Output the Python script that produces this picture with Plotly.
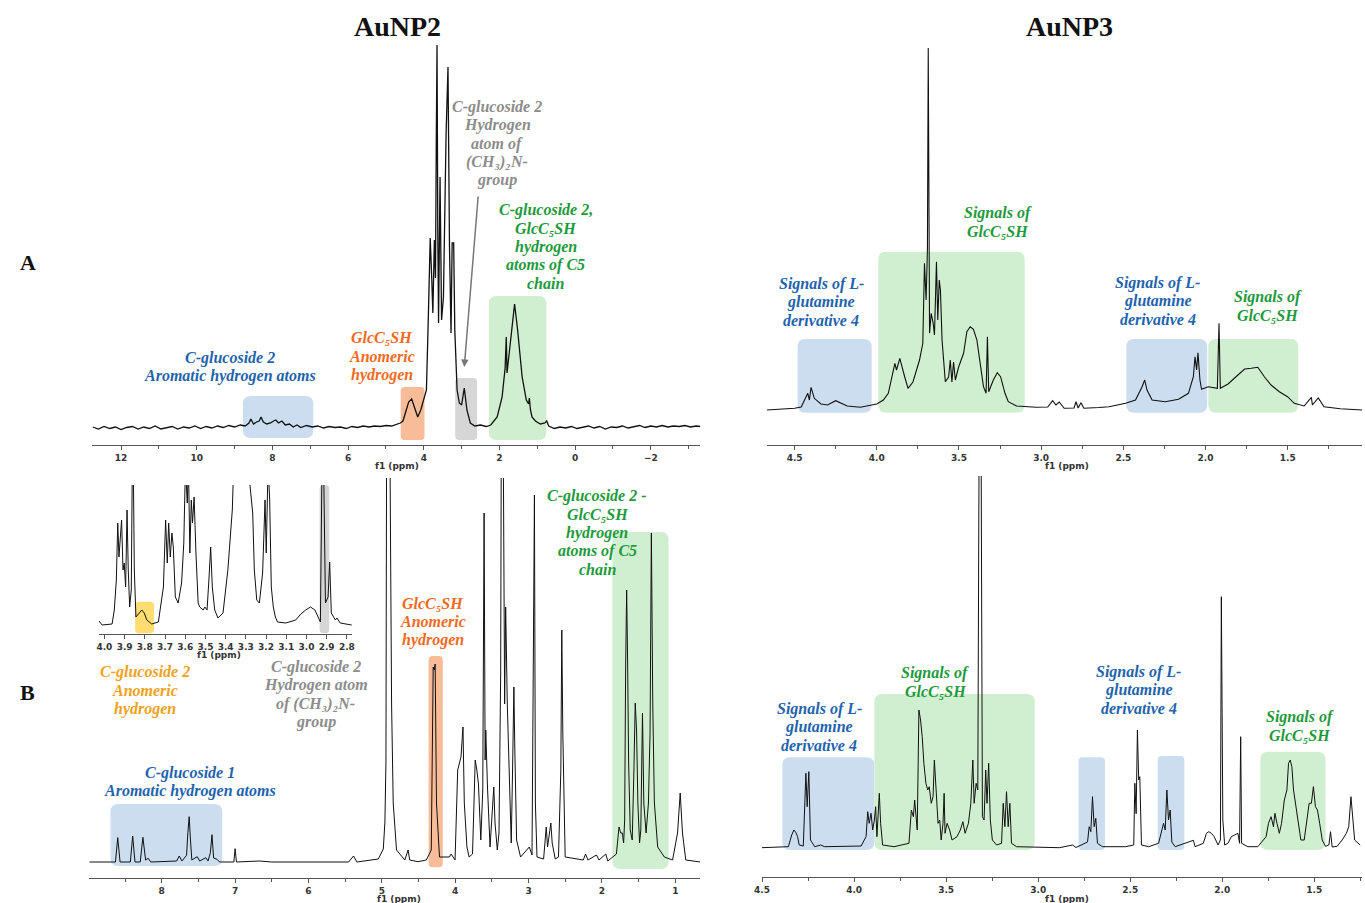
import plotly.graph_objects as go

W, H = 1365, 903

# ---------------- DATA (ppm, intensity) ----------------
auNP2_A = [
    (12.75, 1), (12.6, -1), (12.45, 1.5), (12.3, -0.5), (12.15, 1), (12.0, -1.5), (11.85, 0.5),
    (11.7, 1.5), (11.55, -1), (11.4, 1), (11.25, -0.5), (11.1, 2), (10.95, -1), (10.8, 0.5),
    (10.65, 1.5), (10.5, -1), (10.35, 1), (10.2, 0), (10.05, 2), (9.9, -0.5), (9.75, 1.5),
    (9.6, 0), (9.45, 2), (9.3, 0.5), (9.15, 2.5), (9.0, 1), (8.85, 3), (8.72, 2), (8.62, 5),
    (8.57, 9), (8.5, 4), (8.42, 6), (8.35, 7), (8.3, 11), (8.24, 6), (8.15, 4), (8.05, 5),
    (7.97, 7), (7.91, 8), (7.84, 5), (7.75, 7), (7.66, 3), (7.55, 4), (7.45, 1), (7.35, 3),
    (7.25, 0.5), (7.1, 2.5), (6.95, 1), (6.8, 2), (6.65, 0), (6.5, 1.5), (6.35, 0.5), (6.2, 1),
    (6.05, -0.5), (5.9, 1.5), (5.75, 0.5), (5.6, 2), (5.45, 1), (5.3, 2), (5.15, 1.5), (5.0, 2.5),
    (4.85, 2), (4.72, 4), (4.62, 5), (4.55, 7), (4.48, 16), (4.40, 26), (4.32, 29), (4.25, 20),
    (4.16, 11), (4.08, 18), (3.98, 30), (3.93, 38), (3.88, 110), (3.83, 190), (3.79, 150),
    (3.76, 115), (3.72, 188), (3.69, 150), (3.67, 285), (3.65, 383), (3.63, 200), (3.61, 105),
    (3.57, 251), (3.53, 108), (3.48, 131), (3.41, 295), (3.36, 361), (3.32, 181), (3.28, 95),
    (3.25, 185), (3.21, 185), (3.18, 98), (3.12, 38), (3.06, 25), (3.00, 23), (2.93, 40),
    (2.86, 18), (2.77, 5), (2.65, 2), (2.5, 3), (2.35, 1.5), (2.23, 3), (2.06, 11), (1.93, 31),
    (1.85, 60), (1.82, 91), (1.80, 55), (1.71, 88), (1.60, 124), (1.52, 98), (1.40, 51),
    (1.29, 28), (1.23, 24), (1.21, 30), (1.18, 18), (1.14, 11), (1.05, 7), (0.92, 4), (0.80, 5),
    (0.75, 7), (0.70, 2), (0.55, -0.5), (0.4, 1), (0.25, 0), (0.1, 1.5), (-0.05, -0.5), (-0.2, 1),
    (-0.35, 2), (-0.5, 0), (-0.65, 1.5), (-0.8, -1), (-0.95, 1), (-1.1, 0.5), (-1.25, 2),
    (-1.4, 0), (-1.55, 1.5), (-1.7, 2.5), (-1.85, 0.5), (-2.0, 2), (-2.15, 1), (-2.3, 2.5),
    (-2.45, 1), (-2.6, 2), (-2.75, 1.5), (-2.9, 2.5), (-3.05, 1), (-3.2, 2), (-3.31, 1.5),
]

auNP3_A = [
    (4.669, 0), (4.60, 0.5), (4.50, 1.7), (4.46, 3), (4.42, 16.7), (4.41, 10), (4.40, 22.7),
    (4.38, 11.7), (4.34, 6), (4.30, 5), (4.25, 9.3), (4.18, 4), (4.10, 2.7), (4.00, 6),
    (3.96, 10), (3.93, 16.7), (3.89, 46.7), (3.88, 40), (3.86, 51.7), (3.83, 33), (3.81, 21.7),
    (3.78, 28), (3.74, 50), (3.72, 66.7), (3.71, 146.7), (3.70, 110), (3.692, 160), (3.687, 362),
    (3.679, 76.7), (3.669, 96.7), (3.657, 86.7), (3.649, 75), (3.637, 148.3), (3.629, 90),
    (3.62, 130), (3.613, 120), (3.603, 70), (3.583, 28.3), (3.563, 33), (3.553, 50), (3.543, 28),
    (3.533, 48), (3.522, 30), (3.502, 43), (3.472, 56.7), (3.452, 78.3), (3.432, 83.3),
    (3.412, 80.7), (3.391, 70), (3.371, 46.7), (3.351, 23.3), (3.335, 16.7), (3.327, 73.3),
    (3.319, 18.3), (3.291, 30), (3.267, 37.3), (3.247, 33.3), (3.22, 16.7), (3.20, 8.3),
    (3.15, 4), (3.03, 2.7), (2.96, 3), (2.93, 9.3), (2.91, 5), (2.89, 8), (2.86, 1.7), (2.80, 2),
    (2.788, 8.3), (2.775, 2), (2.758, 7.3), (2.74, 1.7), (2.65, 2.5), (2.587, 3.3), (2.486, 6.7),
    (2.426, 10), (2.386, 23.3), (2.37, 30), (2.356, 20), (2.325, 10), (2.245, 8.3), (2.164, 10.7),
    (2.104, 16.7), (2.074, 33.3), (2.064, 53.3), (2.054, 40), (2.046, 57.3), (2.034, 30),
    (2.024, 20.7), (1.984, 23.3), (1.928, 21.7), (1.918, 86.7), (1.91, 21.7), (1.863, 26),
    (1.803, 35), (1.762, 41), (1.722, 41.7), (1.682, 42.7), (1.641, 33), (1.601, 25),
    (1.551, 18.3), (1.501, 13.3), (1.46, 6.7), (1.40, 4), (1.356, 12.7), (1.35, 5), (1.314, 12),
    (1.279, 3.3), (1.18, 1.3), (1.048, 0),
]

auNP2_B = [
    (8.987, 0), (8.879, 0), (8.631, 0), (8.60, 24.3), (8.568, 0), (8.428, 0), (8.396, 26),
    (8.365, 0), (8.293, 0), (8.257, 24.7), (8.22, 2), (8.185, 3.7), (8.149, 0), (7.797, 1),
    (7.761, 6), (7.725, 1), (7.662, 6.7), (7.644, 29.3), (7.626, 45.3), (7.612, 26), (7.59, 2),
    (7.517, 5.3), (7.482, 1), (7.40, 4.3), (7.369, 1), (7.337, 9.3), (7.315, 27.3), (7.293, 4),
    (7.247, 2.7), (7.212, 0), (7.017, 0), (7.0, 13.3), (6.982, 0), (6.671, 1), (6.5, 0),
    (5.454, 0), (5.386, 6), (5.34, 0), (5.048, 3), (4.98, 13), (4.958, 40), (4.944, 100),
    (4.935, 420), (4.89, 420), (4.867, 158), (4.845, 59), (4.80, 12), (4.687, 2), (4.642, 12),
    (4.62, 2), (4.508, 0.3), (4.394, 2), (4.326, 12), (4.30, 195), (4.286, 192), (4.273, 198),
    (4.255, 59), (4.214, 5), (4.079, 5), (4.056, 8), (4.002, 2), (3.966, 92), (3.944, 99),
    (3.921, 105), (3.894, 135), (3.876, 59), (3.84, 15), (3.81, 5), (3.764, 8), (3.727, 102),
    (3.705, 92), (3.683, 78), (3.651, 22), (3.624, 72), (3.606, 349), (3.592, 102), (3.583, 132),
    (3.56, 75), (3.525, 15), (3.493, 59), (3.474, 75), (3.457, 39), (3.426, 12), (3.403, 29),
    (3.38, 189), (3.372, 420), (3.345, 420), (3.326, 158), (3.312, 255), (3.29, 158), (3.268, 99),
    (3.236, 19), (3.218, 92), (3.20, 175), (3.187, 112), (3.163, 22), (3.109, 5), (3.02, 12),
    (2.99, 15), (2.953, 7), (2.92, 367), (2.907, 59), (2.885, 5), (2.795, 3), (2.759, 35),
    (2.741, 15), (2.718, 29), (2.696, 39), (2.678, 19), (2.636, 3), (2.592, 5), (2.56, 92),
    (2.547, 232), (2.533, 129), (2.501, 5), (2.254, 2), (2.223, 8), (2.191, 2), (2.074, 7),
    (2.04, 2), (1.947, 8), (1.92, 1), (1.803, 8), (1.767, 35), (1.744, 29), (1.722, 29),
    (1.704, 19), (1.69, 42), (1.677, 192), (1.663, 272), (1.65, 202), (1.636, 99), (1.614, 32),
    (1.587, 22), (1.564, 92), (1.546, 159), (1.528, 132), (1.51, 59), (1.487, 19), (1.47, 32),
    (1.447, 149), (1.429, 59), (1.398, 29), (1.366, 59), (1.344, 129), (1.326, 329), (1.307, 158),
    (1.285, 59), (1.24, 15), (1.149, 5), (1.037, 2), (0.969, 29), (0.933, 69), (0.902, 29),
    (0.857, 2), (0.658, 0),
]

auNP2_B_inset = [
    (4.027, 4), (4.011, 0), (3.962, 1), (3.951, 15), (3.941, 45), (3.934, 102), (3.928, 68),
    (3.921, 92), (3.915, 105), (3.908, 55), (3.902, 62), (3.895, 38), (3.888, 115), (3.882, 55),
    (3.875, 18), (3.867, 35), (3.862, 160), (3.857, 160), (3.852, 55), (3.844, 8), (3.826, 12),
    (3.815, 15), (3.803, 12), (3.79, 5), (3.766, 1), (3.733, 3), (3.708, 38), (3.697, 105),
    (3.689, 62), (3.682, 102), (3.674, 68), (3.666, 92), (3.659, 78), (3.649, 28), (3.635, 22),
    (3.618, 42), (3.607, 82), (3.599, 160), (3.59, 122), (3.584, 160), (3.577, 72), (3.57, 125),
    (3.564, 102), (3.556, 128), (3.547, 72), (3.536, 22), (3.528, 18), (3.511, 15), (3.503, 18),
    (3.492, 15), (3.482, 48), (3.474, 78), (3.466, 38), (3.454, 15), (3.438, 7), (3.413, 12),
    (3.389, 55), (3.377, 88), (3.367, 115), (3.36, 160), (3.352, 200), (3.33, 220), (3.29, 200),
    (3.282, 145), (3.266, 112), (3.258, 55), (3.246, 25), (3.233, 22), (3.217, 52), (3.205, 125),
    (3.199, 72), (3.19, 160), (3.182, 125), (3.174, 38), (3.164, 18), (3.154, 8), (3.143, 3),
    (3.102, 2), (3.053, 5), (3.028, 11), (3.004, 15), (2.98, 18), (2.958, 15), (2.942, 7),
    (2.931, 3), (2.923, 160), (2.915, 160), (2.906, 22), (2.893, 28), (2.885, 63), (2.877, 12),
    (2.857, 5), (2.849, 7), (2.833, 2), (2.776, 0),
]

auNP3_B = [
    (4.501, 0.3), (4.357, 1.3), (4.339, 13), (4.327, 18), (4.316, 15.3), (4.307, 11.3),
    (4.298, 3), (4.276, 2), (4.262, 74.7), (4.255, 41.3), (4.246, 76.3), (4.237, 8), (4.214, 1.3),
    (4.182, 3), (4.16, 1.3), (3.962, 2), (3.935, 11.3), (3.926, 36.3), (3.918, 24.7),
    (3.908, 34.7), (3.899, 18), (3.89, 28), (3.883, 41.3), (3.876, 11.3), (3.863, 54.7),
    (3.856, 24.7), (3.845, 3), (3.783, 1.3), (3.702, 4.7), (3.689, 38), (3.678, 31.3),
    (3.671, 48), (3.657, 18), (3.648, 138), (3.639, 128), (3.63, 111.3), (3.621, 84.7),
    (3.61, 64.7), (3.60, 58), (3.592, 61.3), (3.581, 44.7), (3.571, 51.3), (3.564, 88),
    (3.554, 58), (3.544, 24.7), (3.535, 28), (3.527, 8), (3.517, 24.7), (3.511, 54.7),
    (3.506, 14.7), (3.495, 24.7), (3.481, 18), (3.468, 8), (3.441, 11.3), (3.423, 18),
    (3.409, 26.3), (3.397, 14.7), (3.379, 24.7), (3.366, 44.7), (3.355, 88), (3.348, 44.7),
    (3.337, 64.7), (3.328, 58), (3.321, 400), (3.31, 400), (3.303, 31.3), (3.294, 28),
    (3.285, 78), (3.278, 44.7), (3.269, 84.7), (3.26, 28), (3.249, 8), (3.226, 3), (3.199, 4.7),
    (3.19, 44.7), (3.181, 21.3), (3.172, 56.3), (3.163, 21.3), (3.154, 44.7), (3.145, 4.7),
    (3.118, 1.3), (2.885, 0.3), (2.813, 3), (2.795, 0.5), (2.732, 6), (2.723, 21.3),
    (2.714, 16.3), (2.705, 51.3), (2.696, 21.3), (2.687, 29.7), (2.678, 4.7), (2.651, 1.3),
    (2.525, 1.3), (2.481, 3), (2.475, 64.7), (2.468, 34.3), (2.461, 118), (2.454, 68),
    (2.448, 71.3), (2.439, 3), (2.40, 1.3), (2.346, 4.7), (2.319, 24.7), (2.31, 18), (2.301, 58),
    (2.292, 28), (2.283, 38), (2.274, 6), (2.256, 1.3), (2.157, 7.7), (2.148, 1.3), (2.103, 4.7),
    (2.086, 14.7), (2.073, 16.3), (2.059, 14.7), (2.044, 11.3), (2.023, 3), (2.01, 8),
    (2.005, 251.3), (1.997, 28), (1.987, 3), (1.969, 4.7), (1.951, 11.3), (1.933, 13),
    (1.915, 14.7), (1.906, 4.7), (1.90, 111.3), (1.895, 4.7), (1.861, 1.3), (1.807, 1.3),
    (1.762, 11.3), (1.749, 24.7), (1.735, 31.3), (1.722, 21.3), (1.714, 34.7), (1.703, 24.7),
    (1.69, 14.7), (1.678, 24.7), (1.663, 48), (1.649, 58), (1.64, 84.7), (1.631, 88),
    (1.622, 81.3), (1.613, 58), (1.60, 41.3), (1.587, 21.3), (1.573, 8), (1.555, 8),
    (1.541, 24.7), (1.528, 44.7), (1.516, 44.7), (1.505, 61.3), (1.494, 41.3), (1.483, 38),
    (1.471, 24.7), (1.457, 8), (1.439, 1.7), (1.421, 3), (1.412, 16.3), (1.403, 1), (1.376, 1.7),
    (1.349, 8), (1.326, 14.7), (1.313, 21.3), (1.301, 51.3), (1.292, 28), (1.281, 8), (1.251, 3),
]

panel_titles = ["AuNP2", "AuNP3"]
row_labels = ["A", "B"]
axis_label = "f1 (ppm)"

# highlighted regions: (axis, ppm_from, ppm_to, low, high, fill)
BLUE_F, GREEN_F, ORANGE_F, GRAY_F, YELLOW_F = "#CCDDF0", "#D0EED0", "#F9BC98", "#D6D6D6", "#FFDD70"
regions = [
    ("1", 8.78, 6.92, -10, 32, BLUE_F), ("1", 4.61, 3.98, -12, 41, ORANGE_F),
    ("1", 3.17, 2.59, -12, 50, GRAY_F), ("1", 2.28, 0.76, -12, 132, GREEN_F),
    ("2", 4.482, 4.031, -2.7, 71, BLUE_F), ("2", 3.991, 3.10, -2.7, 158.3, GREEN_F),
    ("2", 2.482, 1.99, -2.7, 71, BLUE_F), ("2", 1.983, 1.436, -2.7, 71, GREEN_F),
    ("3", 8.699, 7.175, -4, 58, BLUE_F), ("3", 4.363, 4.169, -5.3, 206, ORANGE_F),
    ("3", 1.857, 1.091, -7, 330, GREEN_F),
    ("4", 4.39, 3.89, -2, 90.7, BLUE_F), ("4", 3.89, 3.019, -2, 154, GREEN_F),
    ("4", 2.781, 2.637, -2, 90.7, BLUE_F), ("4", 2.351, 2.206, -2, 92, BLUE_F),
    ("4", 1.793, 1.439, -2, 96.3, GREEN_F),
    ("5", 3.848, 3.754, -8.3, 23.3, YELLOW_F), ("5", 2.935, 2.887, -8.3, 140, GRAY_F),
]

BLUE, GREEN, ORANGE, GRAY, AMBER = "#1F63AD", "#1E9A3C", "#F26A21", "#8C8C8C", "#F0A21A"
GLC = "GlcC\u2085SH"
NME2 = "(CH\u2083)\u2082N-"
SIG_GLN = ["Signals of L-", "glutamine", "derivative 4"]
SIG_GLC = ["Signals of", GLC]
# text labels: (lines, centre x px, first line y px, colour)
labels = [
    (["C-glucoside 2", "Aromatic hydrogen atoms"], 224, 358, BLUE),
    ([GLC, "Anomeric", "hydrogen"], 377, 338, ORANGE),
    (["C-glucoside 2", "Hydrogen", "atom of", NME2, "group"], 493, 107, GRAY),
    (["C-glucoside 2,", GLC, "hydrogen", "atoms of C5", "chain"], 542, 210, GREEN),
    (SIG_GLN, 820, 284, BLUE), (SIG_GLC, 998, 213, GREEN),
    (SIG_GLN, 1159, 283, BLUE), (SIG_GLC, 1270, 297, GREEN),
    (["C-glucoside 1", "Aromatic hydrogen atoms"], 183, 773, BLUE),
    ([GLC, "Anomeric", "hydrogen"], 428, 603, ORANGE),
    (["C-glucoside 2 -", GLC, "hydrogen", "atoms of C5", "chain"], 594, 496, GREEN),
    (["C-glucoside 2", "Anomeric", "hydrogen"], 138, 672, AMBER),
    (["C-glucoside 2", "Hydrogen atom", "of " + NME2, "group"], 310, 667, GRAY),
    (SIG_GLN, 818, 709, BLUE), (SIG_GLC, 935, 673, GREEN),
    (SIG_GLN, 1140, 672, BLUE), (SIG_GLC, 1302, 717, GREEN),
]

# ---------------- layout geometry (pixels) ----------------
def PX(x):
    return x / W


def PY(y):
    return 1 - y / H


# axis id: (x px left, x px right, y px top, y px bottom, ppm range, intensity range, dtick, minor, fmt, px per ppm)
axes_geo = {
    "1": (85, 698, 40, 445, [12.76, -3.31], [-17, 388], 2, 1, None, 38.15),
    "2": (765, 1365, 45, 445, [4.669, 1.048], [-35, 365], 0.5, 0.25, ".1f", 165.7),
    "3": (82, 698, 478, 878, [8.987, 0.658], [-16, 384], 1, 0.5, None, 73.96),
    "4": (760, 1365, 476, 877, [4.501, 1.241], [-29, 372], 0.5, 0.25, ".1f", 185.6),
    "5": (91.7, 346.7, 485, 634, [4.027, 2.775], [-9, 140], 0.1, None, ".1f", 203.6),
}

fig = go.Figure()

spectra = [(auNP2_A, "1", 1.3), (auNP3_A, "2", 1.1), (auNP2_B, "3", 1.0),
           (auNP3_B, "4", 1.0), (auNP2_B_inset, "5", 1.0)]
for data, ax, lw in spectra:
    sx = "x" if ax == "1" else "x" + ax
    sy = "y" if ax == "1" else "y" + ax
    fig.add_trace(go.Scatter(
        x=[p[0] for p in data], y=[p[1] for p in data], mode="lines",
        line=dict(color="#111111", width=lw), xaxis=sx, yaxis=sy,
        showlegend=False, hoverinfo="skip"))

TICKFONT = dict(family="DejaVu Sans", size=9, color="#333333", weight="bold")
lay = {}
for ax, (x0, x1, y0, y1, xr, yr, dt, mdt, fmt, ppp) in axes_geo.items():
    xk = "xaxis" if ax == "1" else "xaxis" + ax
    yk = "yaxis" if ax == "1" else "yaxis" + ax
    yid = "y" if ax == "1" else "y" + ax
    xid = "x" if ax == "1" else "x" + ax
    xa = dict(domain=[PX(x0), PX(x1)], range=xr, autorange=False, anchor=yid,
              showline=True, linecolor="#555555", linewidth=1, ticks="outside",
              ticklen=4, tickwidth=1, tickcolor="#555555", showgrid=False, zeroline=False,
              tick0=0, dtick=dt, tickfont=TICKFONT, fixedrange=True)
    if fmt:
        xa["tickformat"] = fmt
    if mdt:
        xa["minor"] = dict(dtick=mdt, tick0=0, ticks="outside", ticklen=3,
                           tickcolor="#555555", showgrid=False)
    lay[xk] = xa
    lay[yk] = dict(domain=[PY(y1), PY(y0)], range=yr, autorange=False, anchor=xid,
                   visible=False, fixedrange=True)

shapes = []
for ax, p0, p1, lo, hi, fill in regions:
    ppp = axes_geo[ax][9]
    r_px = 4 if abs(p0 - p1) * ppp < 40 else 8
    rx, ry = r_px / ppp, r_px
    a, b = min(p0, p1), max(p0, p1)
    path = (f"M {a+rx},{lo} L {b-rx},{lo} Q {b},{lo} {b},{lo+ry} L {b},{hi-ry} "
            f"Q {b},{hi} {b-rx},{hi} L {a+rx},{hi} Q {a},{hi} {a},{hi-ry} "
            f"L {a},{lo+ry} Q {a},{lo} {a+rx},{lo} Z")
    shapes.append(dict(type="path", path=path,
                       xref="x" if ax == "1" else "x" + ax,
                       yref="y" if ax == "1" else "y" + ax,
                       fillcolor=fill, line=dict(width=0), layer="below"))

annotations = []
LINE_DY = 18.3
for lines, cx, y0, col in labels:
    for i, t in enumerate(lines):
        annotations.append(dict(
            x=PX(cx), y=PY(y0 + i * LINE_DY), xref="paper", yref="paper",
            text=f"<b><i>{t}</i></b>", showarrow=False, xanchor="center", yanchor="middle",
            font=dict(family="Liberation Serif", size=16, color=col)))

# arrow for the (CH3)2N- signal
annotations.append(dict(x=2.93, y=61, xref="x", yref="y", ax=14, ay=-172, text="",
                        showarrow=True, arrowhead=2, arrowsize=1, arrowwidth=1.5,
                        arrowcolor="#777777"))

# panel titles and row labels
for t, cx in zip(panel_titles, [393, 1070]):
    annotations.append(dict(x=PX(cx), y=PY(27), xref="paper", yref="paper", text=f"<b>{t}</b>",
                            showarrow=False, xanchor="center", yanchor="middle",
                            font=dict(family="Liberation Serif", size=28, color="#111111")))
for t, cy in zip(row_labels, [262, 692]):
    annotations.append(dict(x=PX(20), y=PY(cy), xref="paper", yref="paper", text=f"<b>{t}</b>",
                            showarrow=False, xanchor="center", yanchor="middle",
                            font=dict(family="Liberation Serif", size=22, color="#111111")))

# axis labels
for cx, cy in [(392, 466), (1068, 466), (394, 899), (1068, 899), (213, 655)]:
    annotations.append(dict(x=PX(cx), y=PY(cy), xref="paper", yref="paper", text=axis_label,
                            showarrow=False, xanchor="center", yanchor="middle",
                            font=dict(family="DejaVu Sans", size=9, color="#333333",
                                      weight="bold")))

fig.update_layout(
    width=W, height=H, margin=dict(l=0, r=0, t=0, b=0),
    paper_bgcolor="white", plot_bgcolor="rgba(0,0,0,0)",
    shapes=shapes, annotations=annotations, showlegend=False, **lay)

fig.write_html(
    "out.html",
    config={"displayModeBar": False},
    post_script="document.body.style.margin='0px';document.body.style.overflow='hidden';")
